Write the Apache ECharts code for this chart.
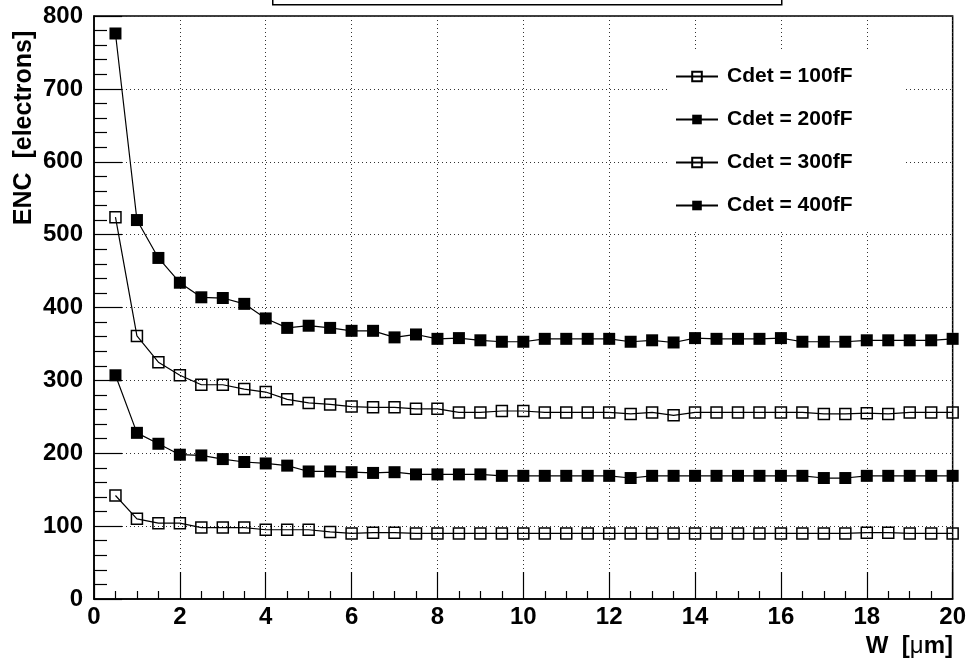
<!DOCTYPE html>
<html>
<head>
<meta charset="utf-8">
<title>ENC vs W</title>
<script src="https://cdn.jsdelivr.net/npm/echarts@6/dist/echarts.min.js"></script>
<style>
    html, body { margin: 0; padding: 0; background: #fff; }
    #chart { width: 969px; height: 663px; }
</style>
</head>
<body>
<div id="chart"></div>
<script>
// W [um] sampling points
const wValues = [0.5, 1, 1.5, 2, 2.5, 3, 3.5, 4, 4.5, 5, 5.5, 6, 6.5, 7, 7.5, 8, 8.5, 9, 9.5, 10,
    10.5, 11, 11.5, 12, 12.5, 13, 13.5, 14, 14.5, 15, 15.5, 16, 16.5, 17, 17.5, 18, 18.5, 19, 19.5, 20];

// ENC [electrons] per detector capacitance
const enc100 = [142, 110, 104, 104, 98, 98, 98, 95, 95, 95, 92, 90, 91, 91, 90, 90, 90, 90, 90, 90,
    90, 90, 90, 90, 90, 90, 90, 90, 90, 90, 90, 90, 90, 90, 90, 91, 91, 90, 90, 90];
const enc200 = [307, 228, 213, 198, 197, 192, 188, 186, 183, 175, 175, 174, 173, 174, 171, 171, 171, 171, 169, 169,
    169, 169, 169, 169, 166, 169, 169, 169, 169, 169, 169, 169, 169, 166, 166, 169, 169, 169, 169, 169];
const enc300 = [524, 361, 325, 307, 294, 294, 288, 284, 274, 269, 267, 264, 263, 263, 261, 261, 256, 256, 258, 258,
    256, 256, 256, 256, 254, 256, 252, 256, 256, 256, 256, 256, 256, 254, 254, 255, 254, 256, 256, 256];
const enc400 = [776, 520, 468, 434, 414, 413, 405, 385, 372, 375, 372, 368, 368, 359, 363, 357, 358, 355, 353, 353,
    357, 357, 357, 357, 353, 355, 352, 358, 357, 357, 357, 358, 353, 353, 353, 355, 355, 355, 355, 357];

const seriesNames = ["Cdet = 100fF", "Cdet = 200fF", "Cdet = 300fF", "Cdet = 400fF"];
const seriesValues = [enc100, enc200, enc300, enc400];
const seriesFilled = [false, true, false, true];

const FONT = "'Liberation Sans', Arial, Helvetica, sans-serif";

// open / filled square marker series
function makeSeries(name, values, filled) {
    return {
        name: name,
        type: "line",
        data: values.map((v, i) => [wValues[i], v]),
        symbol: "rect",
        symbolSize: filled ? 12 : 11,
        showAllSymbol: true,
        lineStyle: { color: "#000", width: 1.2 },
        itemStyle: filled
            ? { color: "#000", borderWidth: 0 }
            : { color: "rgba(255,255,255,0)", borderColor: "#000", borderWidth: 1.5 },
        emphasis: { disabled: true },
    };
}

const chart = echarts.init(document.getElementById("chart"));

const option = {
    animation: false,
    backgroundColor: "#fff",
    grid: {
        left: 94, right: 12, top: 16, bottom: 64,
        show: true, borderColor: "#000", borderWidth: 1.5,
    },
    legend: {
        orient: "vertical",
        left: 668, top: 50,
        padding: [16, 52, 16, 7],
        backgroundColor: "#fff",
        itemWidth: 42, itemHeight: 12, itemGap: 22,
        data: seriesNames,
        textStyle: { fontFamily: FONT, fontWeight: "bold", fontSize: 21, color: "#000", padding: [0, 0, 0, 4] },
    },
    xAxis: {
        type: "value", min: 0, max: 20, interval: 2,
        axisLine: { lineStyle: { color: "#000", width: 1.5 } },
        axisTick: { inside: true, length: 27, lineStyle: { color: "#000", width: 1.2 } },
        minorTick: { show: true, splitNumber: 4, length: 8, lineStyle: { color: "#000", width: 1.2 } },
        splitLine: { show: true, lineStyle: { color: "#333", width: 1, type: [1, 3] } },
        axisLabel: { fontFamily: FONT, fontWeight: "bold", fontSize: 24, color: "#000", margin: 6 },
    },
    yAxis: {
        type: "value", min: 0, max: 800, interval: 100,
        axisLine: { show: true, lineStyle: { color: "#000", width: 1.5 } },
        axisTick: { show: true, inside: true, length: 28, lineStyle: { color: "#000", width: 1.2 } },
        minorTick: { show: true, splitNumber: 5, length: 13, lineStyle: { color: "#000", width: 1.2 } },
        splitLine: { show: true, lineStyle: { color: "#333", width: 1, type: [1, 3] } },
        axisLabel: { fontFamily: FONT, fontWeight: "bold", fontSize: 24, color: "#000", margin: 11 },
    },
    graphic: [
        // empty title box cut by the top edge
        {
            type: "rect", left: 272, top: -20, z: 10,
            shape: { width: 509, height: 24 },
            style: { fill: "#fff", stroke: "#000", lineWidth: 1.5 },
        },
        {
            type: "text", x: 24, y: 128, rotation: Math.PI / 2, z: 10,
            style: {
                text: "ENC  [electrons]", fontFamily: FONT, fontWeight: "bold", fontSize: 25,
                fill: "#000", align: "center", verticalAlign: "middle",
            },
        },
        {
            type: "text", x: 953, y: 646, z: 10,
            style: {
                text: "{b|W  [}{u|\u03bc}{b|m]}",
                align: "right", verticalAlign: "middle",
                rich: {
                    b: { fontFamily: FONT, fontWeight: "bold", fontSize: 24, fill: "#000" },
                    u: { fontFamily: FONT, fontWeight: "normal", fontSize: 24, fill: "#000" },
                },
            },
        },
    ],
    series: seriesNames.map((n, i) => makeSeries(n, seriesValues[i], seriesFilled[i])),
};

chart.setOption(option);
</script>
</body>
</html>
